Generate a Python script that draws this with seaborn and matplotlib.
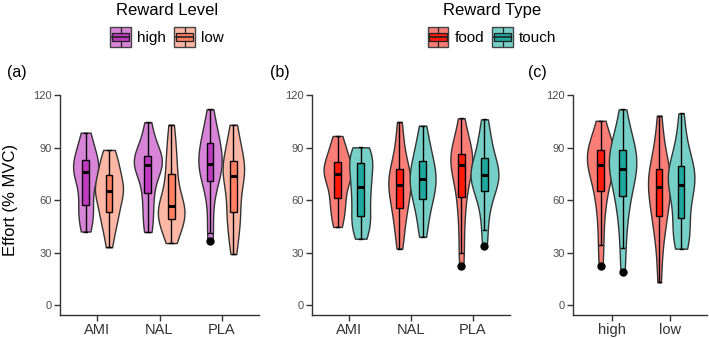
import matplotlib
matplotlib.use('Agg')
import matplotlib.pyplot as plt
from matplotlib.patches import Rectangle, Patch
from matplotlib.lines import Line2D
from matplotlib.legend_handler import HandlerBase
import seaborn as sns
import pandas as pd

# panel (a): drug x reward level
a_ami_high = [42, 44, 48, 53, 55, 57, 62, 67, 71, 74, 76, 77, 78, 79, 81, 83, 85, 88, 92, 95, 98.5]
a_ami_low = [33, 40, 45, 49, 51, 53, 57, 60, 62, 64, 65, 66, 68, 70, 72, 74.5, 77, 80, 83, 86, 88.6]
a_nal_high = [41.7, 45, 50, 56, 61, 64, 70, 74, 77, 79, 80, 81, 82, 83, 84, 85, 87, 90, 94, 99, 104.4]
a_nal_low = [35.4, 39, 43, 46, 48, 49.3, 51, 53, 54, 55.5, 56.6, 58, 61, 65, 70, 74.7, 79, 84, 89, 96, 103]
a_pla_high = [36.8, 41, 52, 62, 67, 70.9, 74, 77, 78.5, 79.5, 80.6, 82, 85, 88, 90, 92.6, 94, 97, 101, 106, 111.8]
a_pla_low = [29.1, 36, 42, 47, 50, 53.1, 57, 62, 67, 71, 73.9, 75, 77, 78.5, 80, 82.1, 85, 89, 93, 98, 103]

# panel (b): drug x reward type
b_ami_food = [44.6, 48, 52, 56, 59, 61.3, 65, 69, 72, 73.5, 74.7, 76, 77, 78.5, 80, 81.5, 84, 87, 90, 93, 96.6]
b_ami_touch = [37.9, 41, 44, 47, 49, 50.9, 55, 59, 62, 65, 67.4, 70, 73, 76, 79, 81, 83, 85, 87, 89, 90.1]
b_nal_food = [32.2, 38, 44, 49, 53, 55.4, 59, 62, 64, 66.5, 68.6, 70, 72, 74, 76, 77.7, 81, 85, 90, 97, 104.6]
b_nal_touch = [39, 44, 50, 55, 58, 60.6, 63, 66, 68, 70, 71.8, 73, 75, 78, 80, 82.5, 85, 88, 92, 97, 102.5]
b_pla_food = [22.5, 29.5, 40, 50, 57, 61.5, 67, 72, 76, 78, 79.8, 81, 83, 84.5, 85.5, 86.5, 88, 91, 95, 100, 106.7]
b_pla_touch = [34, 43, 52, 58, 62, 65, 68, 70, 72, 73, 74.3, 75.5, 77, 79, 81.5, 84, 87, 91, 95, 100, 106.1]

# panel (c): reward level x reward type
c_high_food = [22.5, 34.3, 45, 55, 61, 65, 70, 74, 77, 79, 80.2, 82, 84, 86, 87, 88.4, 90, 92, 95, 100, 105.3]
c_high_touch = [19, 32.4, 44, 52, 58, 62.3, 67, 71, 74, 76, 77.9, 80, 82, 84.5, 86.5, 88.8, 91, 94, 98, 104, 111.8]
c_low_food = [13, 27, 37, 44, 48, 50.7, 55, 59, 62, 65, 67.4, 69, 71, 73, 75.5, 77.9, 81, 85, 90, 98, 108.2]
c_low_touch = [32.2, 34, 38, 42, 46, 49.7, 55, 60, 64, 66.5, 68.8, 71, 73, 75, 77, 79.6, 82, 86, 91, 99, 109.5]

drugs = ['AMI', 'NAL', 'PLA']
levels = ['high', 'low']
types = ['food', 'touch']

level_violin = {'high': '#D884D8', 'low': '#FFB7A5'}
level_box = {'high': '#C03AC0', 'low': '#FF7F5F'}
type_violin = {'food': '#FA7E75', 'touch': '#76D0C8'}
type_box = {'food': '#FF1A0A', 'touch': '#1FA89F'}


def long_df(groups):
    rows = []
    for (x, h), vals in groups.items():
        for v in vals:
            rows.append({'x': x, 'hue': h, 'y': v})
    return pd.DataFrame(rows)


df_a = long_df({('AMI', 'high'): a_ami_high, ('AMI', 'low'): a_ami_low,
                ('NAL', 'high'): a_nal_high, ('NAL', 'low'): a_nal_low,
                ('PLA', 'high'): a_pla_high, ('PLA', 'low'): a_pla_low})
df_b = long_df({('AMI', 'food'): b_ami_food, ('AMI', 'touch'): b_ami_touch,
                ('NAL', 'food'): b_nal_food, ('NAL', 'touch'): b_nal_touch,
                ('PLA', 'food'): b_pla_food, ('PLA', 'touch'): b_pla_touch})
df_c = long_df({('high', 'food'): c_high_food, ('high', 'touch'): c_high_touch,
                ('low', 'food'): c_low_food, ('low', 'touch'): c_low_touch})

plt.rcParams['font.family'] = ['Liberation Sans', 'DejaVu Sans']

W, H = 709, 339
fig = plt.figure(figsize=(W / 100, H / 100), dpi=100)


def px_axes(left, width, top=95, bottom=315):
    return fig.add_axes([left / W, (H - bottom) / H, width / W, (bottom - top) / H])


def draw(ax, df, order, hue_order, vpal, bpal, xlim, widen=1.2):
    sns.violinplot(data=df, x='x', y='y', hue='hue', order=order, hue_order=hue_order,
                   palette=vpal, cut=0, inner=None, width=0.75, density_norm='area',
                   bw_adjust=0.85, saturation=1, linewidth=1, linecolor='#333333',
                   legend=False, ax=ax)
    # ggplot violins are a bit wider than the dodge spacing
    for coll in ax.collections:
        for p in coll.get_paths():
            v = p.vertices
            cx = (v[:, 0].min() + v[:, 0].max()) / 2
            v[:, 0] = cx + (v[:, 0] - cx) * widen
    sns.boxplot(data=df, x='x', y='y', hue='hue', order=order, hue_order=hue_order,
                palette=bpal, width=0.75, gap=0.71, saturation=1, linewidth=1,
                linecolor='black', whis=1.5, fliersize=5,
                flierprops={'marker': 'o', 'markerfacecolor': 'black', 'markeredgecolor': 'black'},
                medianprops={'linewidth': 2.2, 'color': 'black'},
                legend=False, ax=ax)
    ax.set_xlim(*xlim)
    ax.set_ylim(-5.7, 120)
    ax.set_yticks([0, 30, 60, 90, 120])
    ax.set_xlabel('')
    ax.set_ylabel('')
    sns.despine(ax=ax)
    for s in ['left', 'bottom']:
        ax.spines[s].set_color('#333333')
        ax.spines[s].set_linewidth(1)
    ax.tick_params(axis='both', length=4, width=1, color='#333333', direction='out')
    ax.tick_params(axis='y', labelsize=8, labelcolor='#4D4D4D', pad=2)
    ax.tick_params(axis='x', labelsize=10.5, labelcolor='#333333', pad=2)
    ax.set_facecolor('white')


ax_a = px_axes(60, 199)
ax_b = px_axes(312, 198)
ax_c = px_axes(573, 134)
draw(ax_a, df_a, drugs, levels, level_violin, level_box, (-0.6, 2.6))
draw(ax_b, df_b, drugs, types, type_violin, type_box, (-0.6, 2.6))
draw(ax_c, df_c, levels, types, type_violin, type_box, (-0.66, 1.63), widen=1.25)

ax_a.set_ylabel('Effort (% MVC)', fontsize=12)
ax_a.yaxis.set_label_coords((18.5 - 60) / 199, 0.523)

for lab, x in [('(a)', 7), ('(b)', 270), ('(c)', 528)]:
    fig.text(x / W, 1 - 72 / H, lab, fontsize=11.5, ha='left', va='center')


class BoxKey(HandlerBase):
    def __init__(self, vcol, bcol):
        super().__init__()
        self.vcol = vcol
        self.bcol = bcol

    def create_artists(self, legend, orig_handle, xdescent, ydescent, width, height, fontsize, trans):
        x0, y0 = -xdescent, -ydescent
        outer = Rectangle((x0, y0), width, height, facecolor=self.vcol, edgecolor='#444444',
                          lw=1, transform=trans)
        inner = Rectangle((x0 + 0.08 * width, y0 + 0.27 * height), 0.84 * width, 0.46 * height,
                          facecolor=self.bcol, edgecolor='#222222', lw=0.9, transform=trans)
        med = Line2D([x0 + 0.08 * width, x0 + 0.92 * width], [y0 + 0.5 * height] * 2,
                     color='#222222', lw=1.2, transform=trans)
        wt = Line2D([x0 + 0.5 * width] * 2, [y0 + 0.73 * height, y0 + 0.95 * height],
                    color='#222222', lw=0.9, transform=trans)
        wb = Line2D([x0 + 0.5 * width] * 2, [y0 + 0.05 * height, y0 + 0.27 * height],
                    color='#222222', lw=0.9, transform=trans)
        return [outer, inner, med, wt, wb]


def top_legend(labels, vpal, bpal, title, cx):
    handles = [Patch() for _ in labels]
    hmap = {h: BoxKey(vpal[l], bpal[l]) for h, l in zip(handles, labels)}
    leg = fig.legend(handles, labels, title=title, handler_map=hmap, loc='upper center',
                     bbox_to_anchor=(cx / W, 1.01), ncol=len(labels), frameon=False,
                     fontsize=11, title_fontsize=12, handlelength=1.35, handleheight=1.55,
                     handletextpad=0.4, columnspacing=0.55, borderaxespad=0)
    leg._legend_box.sep = 7
    return leg


top_legend(levels, level_violin, level_box, 'Reward Level', 167)
top_legend(types, type_violin, type_box, 'Reward Type', 492)

fig.savefig('out.png', dpi=100, facecolor='white')
